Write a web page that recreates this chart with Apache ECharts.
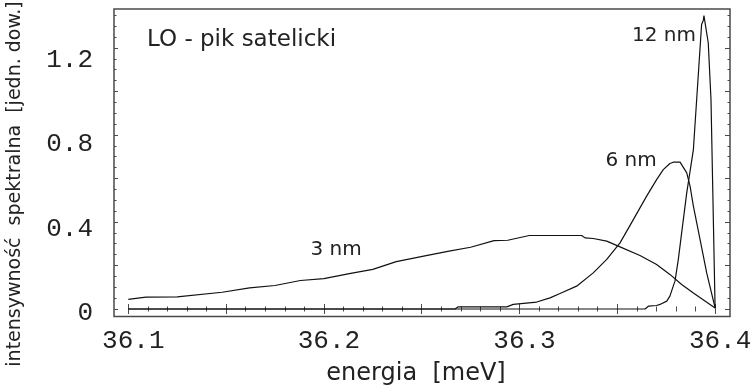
<!DOCTYPE html>
<html>
<head>
<meta charset="utf-8">
<script src="https://cdn.jsdelivr.net/npm/echarts@6/dist/echarts.min.js"></script>
<style>
html,body{margin:0;padding:0;background:#fff;}
#chart{width:754px;height:391px;}
</style>
</head>
<body>
<div id="chart"></div>
<script>
// ---- data (energia [meV], intensywność) ----
const energy3 = [36.100, 36.109, 36.125, 36.148, 36.162, 36.175, 36.188, 36.200, 36.213, 36.225, 36.237, 36.251, 36.264, 36.275, 36.287, 36.294, 36.305, 36.3318, 36.3335, 36.3377, 36.3446, 36.3505, 36.3616, 36.3701, 36.3769, 36.3829, 36.3889, 36.400];
const inten3  = [0.044, 0.055, 0.056, 0.077, 0.097, 0.108, 0.131, 0.140, 0.163, 0.182, 0.218, 0.243, 0.266, 0.284, 0.314, 0.316, 0.338, 0.338, 0.327, 0.324, 0.312, 0.289, 0.246, 0.205, 0.159, 0.113, 0.074, 0.005];

const energy6 = [36.100, 36.267, 36.2687, 36.2935, 36.2968, 36.3088, 36.3156, 36.3207, 36.3292, 36.3377, 36.3446, 36.3514, 36.3582, 36.3650, 36.3701, 36.3735, 36.3769, 36.3786, 36.3821, 36.3829, 36.3855, 36.3872, 36.3889, 36.3923, 36.3957, 36.400];
const inten6  = [0.000, 0.000, 0.010, 0.010, 0.021, 0.032, 0.051, 0.071, 0.105, 0.166, 0.228, 0.304, 0.411, 0.519, 0.595, 0.641, 0.669, 0.675, 0.675, 0.664, 0.626, 0.565, 0.473, 0.320, 0.166, 0.005];

const energy12 = [36.100, 36.3642, 36.3659, 36.3701, 36.3718, 36.3753, 36.3769, 36.3786, 36.3795, 36.3812, 36.3829, 36.3855, 36.3889, 36.3931, 36.3940, 36.3943, 36.3953, 36.3965, 36.3979, 36.400];
const inten12  = [0.000, 0.000, 0.013, 0.016, 0.021, 0.036, 0.059, 0.105, 0.128, 0.228, 0.350, 0.534, 0.733, 1.308, 1.328, 1.349, 1.349, 1.224, 0.963, 0.005];

// ---- ticks & labels ----
const xLabelValues = [36.1, 36.2, 36.3, 36.4];
const xMajorTicks = [36.1, 36.15, 36.2, 36.25, 36.3, 36.35, 36.4];
const xMinorTicks = [36.11, 36.12, 36.13, 36.14, 36.16, 36.17, 36.18, 36.19, 36.21, 36.22, 36.23, 36.24, 36.26, 36.27, 36.28, 36.29, 36.31, 36.32, 36.33, 36.34, 36.36, 36.37, 36.38, 36.39];
const yLabelValues = [0, 0.4, 0.8, 1.2];
const yMajorTicks = [0, 0.2, 0.4, 0.6, 0.8, 1.0, 1.2];
const yMinorTicks = [0.05, 0.1, 0.15, 0.25, 0.3, 0.35, 0.45, 0.5, 0.55, 0.65, 0.7, 0.75, 0.85, 0.9, 0.95, 1.05, 1.1, 1.15, 1.25, 1.3, 1.35];

const seriesNames = ['3 nm', '6 nm', '12 nm'];
const chartTitle = 'LO - pik satelicki';
const xTitle = 'energia  [meV]';
const yTitle = 'intensywność  spektralna  [jedn. dow.]';

// ---- chart ----
const X_MIN = 36.09269, X_MAX = 36.40762;
const Y_MIN = -0.0345, Y_MAX = 1.3793;
const frame = '#4a4a4a';
const textColor = '#222';
const mono = '"Liberation Mono", "DejaVu Sans Mono", monospace';
const sans = '"DejaVu Sans", "Liberation Sans", sans-serif';

function pairs(xs, ys) { return xs.map((x, i) => [x, ys[i]]); }

function xAxisDef(pos, ticks, len, labels) {
  return {
    type: 'value', gridIndex: 0, position: pos, min: X_MIN, max: X_MAX,
    axisLine: { show: false }, splitLine: { show: false },
    axisTick: { show: true, inside: true, length: len, customValues: ticks, lineStyle: { color: frame, width: 1 } },
    axisLabel: labels ? {
      show: true, customValues: labels, formatter: v => v.toFixed(1),
      margin: 12, padding: [0, 0, 0, 10], fontFamily: mono, fontSize: 26, color: textColor
    } : { show: false }
  };
}
function yAxisDef(pos, ticks, len) {
  return {
    type: 'value', gridIndex: 0, position: pos, min: Y_MIN, max: Y_MAX,
    axisLine: { show: false }, splitLine: { show: false },
    axisTick: { show: true, inside: true, length: len, customValues: ticks, lineStyle: { color: frame, width: 1 } },
    axisLabel: { show: false }
  };
}

const chart = echarts.init(document.getElementById('chart'), null, { renderer: 'canvas' });
const lineStyle = { color: '#111', width: 1.2 };

chart.setOption({
  animation: false,
  backgroundColor: '#fff',
  grid: {
    left: 114, top: 9, width: 616, height: 307.5,
    show: true, borderColor: frame, borderWidth: 1.5, backgroundColor: 'transparent',
    containLabel: false, outerBoundsMode: 'none'
  },
  xAxis: [
    xAxisDef('bottom', xMajorTicks, 5, xLabelValues),
    xAxisDef('bottom', xMinorTicks, 2.5, null),
    xAxisDef('top', xMajorTicks, 5, null),
    xAxisDef('top', xMinorTicks, 2.5, null)
  ],
  yAxis: [
    yAxisDef('left', yMajorTicks, 4),
    yAxisDef('left', yMinorTicks, 2.5),
    yAxisDef('right', yMajorTicks, 5),
    yAxisDef('right', yMinorTicks, 2.5),
    {
      type: 'value', gridIndex: 0, position: 'left', min: -0.0166, max: 1.4421,
      axisLine: { show: false }, splitLine: { show: false }, axisTick: { show: false },
      axisLabel: {
        show: true, customValues: yLabelValues,
        formatter: v => (v === 0 ? '0' : v.toFixed(1)),
        margin: 21, fontFamily: mono, fontSize: 26, color: textColor
      }
    }
  ],
  series: [
    { name: seriesNames[0], type: 'line', xAxisIndex: 0, yAxisIndex: 0, data: pairs(energy3, inten3), symbol: 'none', lineStyle },
    { name: seriesNames[1], type: 'line', xAxisIndex: 0, yAxisIndex: 0, data: pairs(energy6, inten6), symbol: 'none', lineStyle },
    { name: seriesNames[2], type: 'line', xAxisIndex: 0, yAxisIndex: 0, data: pairs(energy12, inten12), symbol: 'none', lineStyle }
  ],
  graphic: [
    { type: 'text', left: 147, top: 29, style: { text: chartTitle, fontFamily: sans, fontSize: 23, fill: textColor } },
    { type: 'text', x: 336, y: 250, style: { text: seriesNames[0], x: 0, y: 0, align: 'center', verticalAlign: 'middle', fontFamily: sans, fontSize: 20, fill: textColor } },
    { type: 'text', x: 631, y: 161, style: { text: seriesNames[1], x: 0, y: 0, align: 'center', verticalAlign: 'middle', fontFamily: sans, fontSize: 20, fill: textColor } },
    { type: 'text', x: 664, y: 36, style: { text: seriesNames[2], x: 0, y: 0, align: 'center', verticalAlign: 'middle', fontFamily: sans, fontSize: 20, fill: textColor } },
    { type: 'text', x: 416, y: 374, style: { text: xTitle, x: 0, y: 0, align: 'center', verticalAlign: 'middle', fontFamily: sans, fontSize: 24, fill: textColor } },
    { type: 'text', x: 15, y: 184, rotation: Math.PI / 2, style: { text: yTitle, x: 0, y: 0, align: 'center', verticalAlign: 'middle', fontFamily: sans, fontSize: 19, fill: textColor } }
  ]
});
</script>
</body>
</html>
